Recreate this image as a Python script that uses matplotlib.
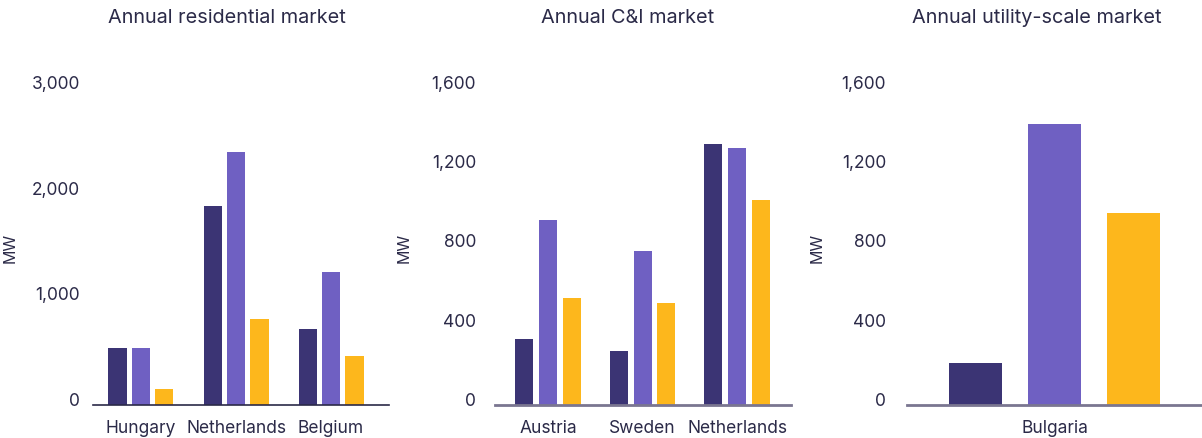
import matplotlib
matplotlib.use("Agg")
import matplotlib.pyplot as plt

plt.rcParams['font.family'] = ['Inter', 'DejaVu Sans']

# colours for the three series (same order in every group)
colors = ["#3b3474", "#6f60c2", "#fdb71c"]
text_color = "#2b2a48"

# residential
res_countries = ["Hungary", "Netherlands", "Belgium"]
res_s1 = [540, 1880, 720]
res_s2 = [540, 2390, 1255]
res_s3 = [150, 815, 460]

# C&I
ci_countries = ["Austria", "Sweden", "Netherlands"]
ci_s1 = [333, 273, 1318]
ci_s2 = [934, 778, 1298]
ci_s3 = [540, 515, 1035]

# utility-scale
util_countries = ["Bulgaria"]
util_values = [212, 1419, 970]

W, H = 1202, 439
fig = plt.figure(figsize=(W / 100, H / 100), dpi=100)


def px_axes(x0, x1, y_top, y_bottom):
    return fig.add_axes([x0 / W, 1 - y_bottom / H, (x1 - x0) / W, (y_bottom - y_top) / H])


def style(ax, ticks, ylim, pad_px, spine_color, spine_w):
    for s in ["top", "right", "left"]:
        ax.spines[s].set_visible(False)
    ax.spines["bottom"].set_color(spine_color)
    ax.spines["bottom"].set_linewidth(spine_w)
    ax.set_ylim(*ylim)
    ax.set_yticks(ticks)
    ax.set_yticklabels([f"{t:,}" for t in ticks])
    # pad given in pixels -> points
    ax.tick_params(axis="y", length=0, pad=pad_px * 0.72, labelsize=12.5, colors=text_color)
    ax.tick_params(axis="x", length=0, pad=10, labelsize=12.5, colors=text_color)
    for lbl in ax.get_yticklabels():
        lbl.set_verticalalignment("baseline")
    ax.set_zorder(1)


# panel 1
ax1 = px_axes(93, 389, 89, 406)
w1, step1 = 0.19, 0.247
for i, vals in enumerate([res_s1, res_s2, res_s3]):
    xs = [k + (i - 1) * step1 for k in range(len(res_countries))]
    ax1.bar(xs, vals, width=w1, color=colors[i])
ax1.set_xticks(range(len(res_countries)))
ax1.set_xticklabels(res_countries)
ax1.set_xlim(-0.505, 2.61)
style(ax1, [0, 1000, 2000, 3000], (0, 3000), 13, "#2b2a48", 1.2)
ax1.set_ylabel("MW", fontsize=11.5, color=text_color)
ax1.yaxis.set_label_coords((18 - 93) / 296, 0.5)

# panel 2
ax2 = px_axes(495, 791, 89, 406)
w2, step2 = 0.19, 0.25
for i, vals in enumerate([ci_s1, ci_s2, ci_s3]):
    xs = [k + (i - 1) * step2 for k in range(len(ci_countries))]
    ax2.bar(xs, vals, width=w2, color=colors[i])
ax2.set_xticks(range(len(ci_countries)))
ax2.set_xticklabels(ci_countries)
ax2.set_xlim(-0.561, 2.571)
style(ax2, [0, 400, 800, 1200, 1600], (0, 1600), 19, "#7a7690", 2)
ax2.set_ylabel("MW", fontsize=11.5, color=text_color)
ax2.yaxis.set_label_coords((412 - 495) / 296, 0.5)

# panel 3
ax3 = px_axes(907, 1202, 89, 406)
ax3.bar([-1, 0, 1], util_values, width=0.67, color=colors)
ax3.set_xticks([0])
ax3.set_xticklabels(util_countries)
ax3.set_xlim(-1.87, 1.86)
style(ax3, [0, 400, 800, 1200, 1600], (0, 1600), 21, "#7a7690", 2)
ax3.set_ylabel("MW", fontsize=11.5, color=text_color)
ax3.yaxis.set_label_coords((825 - 907) / 295, 0.5)

# titles
for x, t in [(227, "Annual residential market"), (628, "Annual C&I market"),
             (1037, "Annual utility-scale market")]:
    fig.text(x / W, 1 - 18 / H, t, ha="center", va="center", fontsize=14.3, color=text_color)

fig.savefig("out.png", dpi=100)
